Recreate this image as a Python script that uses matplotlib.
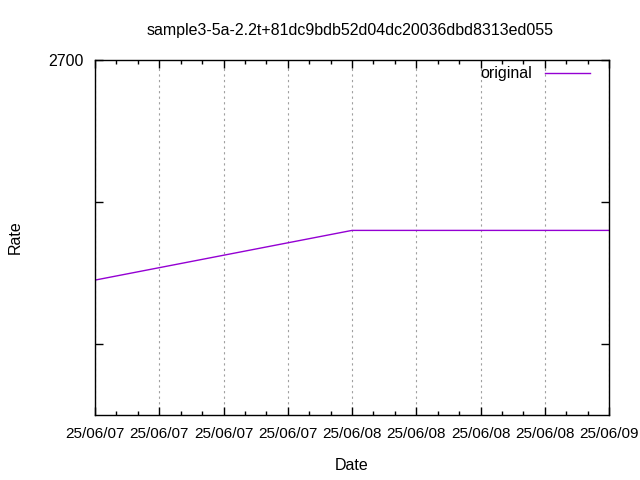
import matplotlib
matplotlib.use("Agg")
import matplotlib.pyplot as plt
from matplotlib.ticker import MultipleLocator

plt.rcParams["font.family"] = ["Liberation Sans", "DejaVu Sans"]

title = "sample3-5a-2.2t+81dc9bdb52d04dc20036dbd8313ed055"
x_labels = ["25/06/07", "25/06/07", "25/06/07", "25/06/07", "25/06/08",
            "25/06/08", "25/06/08", "25/06/08", "25/06/09"]
x_vals = [0, 4, 8]
rate = [2545, 2580, 2580]
y_ticks = [2700, 2600, 2500]
y_tick_labels = ["2700", "", ""]

fs = 11.5

fig = plt.figure(figsize=(6.4, 4.8), dpi=100)
ax = fig.add_axes([95 / 640, 65 / 480, 514 / 640, 355 / 480])

ax.plot(x_vals, rate, color="#9400D3", linewidth=1, label="original")

ax.set_xlim(0, len(x_labels) - 1)
ax.set_ylim(2450, 2700)
ax.set_xticks(range(len(x_labels)))
ax.set_xticklabels(x_labels, fontsize=11)
ax.xaxis.set_minor_locator(MultipleLocator(1 / 3))
ax.set_yticks(y_ticks)
ax.set_yticklabels(y_tick_labels, fontsize=fs)

ax.tick_params(which="both", direction="in", top=True, right=True, width=1)
ax.tick_params(which="major", length=6)
ax.tick_params(which="minor", length=3)
ax.tick_params(axis="x", which="major", pad=9)
ax.tick_params(axis="y", which="major", pad=8)

ax.grid(True, axis="x", which="major", color="#a0a0a0", linestyle=(0, (2, 3)), linewidth=0.8)
for s in ax.spines.values():
    s.set_linewidth(1)

ax.set_xlabel("Date", fontsize=fs, labelpad=12)
fig.text(15 / 640, 1 - 237 / 480, "Rate", rotation=90, ha="center", va="center", fontsize=fs)
fig.text(350 / 640, 1 - 30 / 480, title, ha="center", va="center", fontsize=fs)

ax.legend(loc="upper right", bbox_to_anchor=(0.9755, 1.0), borderaxespad=0,
          frameon=False, markerfirst=False, fontsize=fs,
          handlelength=2.8, handletextpad=0.8)

fig.savefig("out.png", dpi=100)
